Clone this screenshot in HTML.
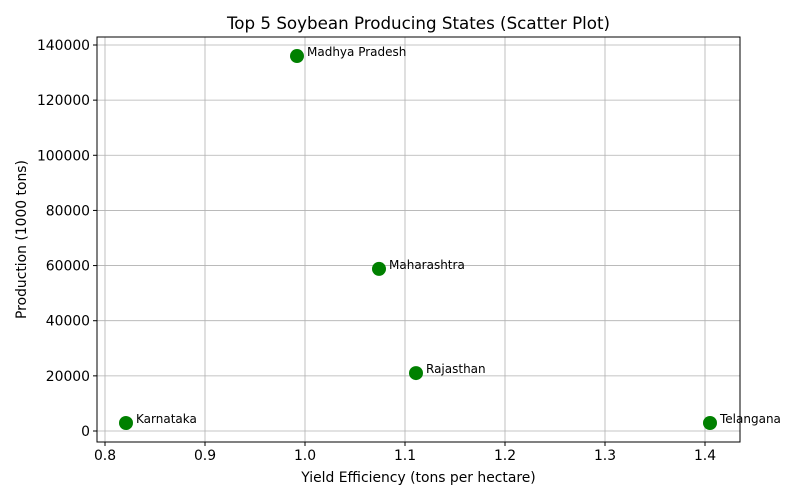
<!DOCTYPE html>
<html><head><meta charset="utf-8"><style>
body{margin:0;background:#fff}
svg{display:block;font-family:"DejaVu Sans","Liberation Sans",sans-serif}
</style></head><body>
<svg id="chart" width="800" height="500" xmlns="http://www.w3.org/2000/svg">
<rect width="800" height="500" fill="#fff"/>
<text x="418.5" y="29" font-size="16.7" text-anchor="middle">Top 5 Soybean Producing States (Scatter Plot)</text>
<g id="grid"></g>
<g id="ticks"></g>
<rect x="97" y="37" width="643" height="405" fill="none" stroke="#000" stroke-width="1"/>
<g id="points"></g>
<text x="418.5" y="482" font-size="13.9" text-anchor="middle">Yield Efficiency (tons per hectare)</text>
<text transform="translate(26,239.5) rotate(-90)" font-size="13.9" text-anchor="middle">Production (1000 tons)</text>
</svg>
<script>
const states = ["Madhya Pradesh","Maharashtra","Rajasthan","Karnataka","Telangana"];
const yields = [0.992,1.074,1.111,0.821,1.405];
const production = [136000,58800,21000,2900,2900];
const xTicks = [0.8,0.9,1.0,1.1,1.2,1.3,1.4];
const yTicks = [0,20000,40000,60000,80000,100000,120000,140000];
const xMin=0.792,xMax=1.435,yMin=-3990,yMax=142900;
const L=97,R=740,T=37,B=442;
const sx=v=>L+(v-xMin)/(xMax-xMin)*(R-L);
const sy=v=>B-(v-yMin)/(yMax-yMin)*(B-T);
const NS="http://www.w3.org/2000/svg";
function mk(tag,attrs,parent){const e=document.createElementNS(NS,tag);for(const k in attrs)e.setAttribute(k,attrs[k]);parent.appendChild(e);return e;}
const grid=document.getElementById('grid'),ticks=document.getElementById('ticks'),pts=document.getElementById('points');
xTicks.forEach(t=>{const x=sx(t);
 const g=mk('line',{x1:x,x2:x,y1:T,y2:B,stroke:'#b0b0b0','stroke-width':0.8},grid);
 
 
 const tk=mk('line',{x1:x,x2:x,y1:B,y2:B+4,stroke:'#000'},ticks);
 
 
 const tx=mk('text',{x:x,y:B+18,'font-size':13.9,'text-anchor':'middle'},ticks);
 tx.textContent=t.toFixed(1);
 
 
});
yTicks.forEach(t=>{const y=sy(t);
 const g=mk('line',{x1:L,x2:R,y1:y,y2:y,stroke:'#b0b0b0','stroke-width':0.8},grid);
 
 
 const tk=mk('line',{x1:L-4,x2:L,y1:y,y2:y,stroke:'#000'},ticks);
 
 
 const tx=mk('text',{x:L-7,y:y+5,'font-size':13.9,'text-anchor':'end'},ticks);
 tx.textContent=String(t);
 
 
});
states.forEach((s,i)=>{const x=sx(yields[i]),y=sy(production[i]);
 const c=mk('circle',{cx:x,cy:y,r:7,fill:'#008000'},pts);
 
 
 const t=mk('text',{x:x+10,y:y-0,'font-size':12},pts);
 t.textContent=s;
 
 
});
</script>
</body></html>
